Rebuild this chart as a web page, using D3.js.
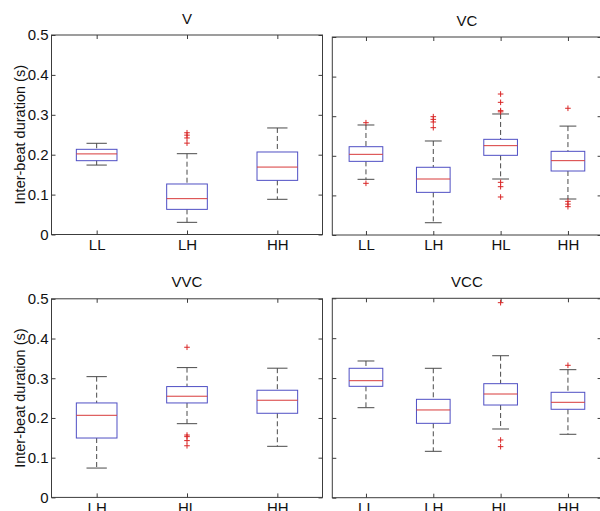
<!DOCTYPE html>
<html>
<head>
<meta charset="utf-8">
<script src="https://cdn.jsdelivr.net/npm/d3@7"></script>
<style>
  body { margin: 0; background: #fff; }
  svg { display: block; font-family: "Liberation Sans", Arial, Helvetica, sans-serif; }
</style>
</head>
<body>
<div id="chart"></div>
<script>
// Inter-beat duration boxplots, four conditions
// each stat row: [lower whisker, q1, median, q3, upper whisker]

var panelTitles = ["V", "VC", "VVC", "VCC"];

var vCats = ["LL", "LH", "HH"];
var vStats = [
  [0.174, 0.185, 0.202, 0.2135, 0.2286],
  [0.0305, 0.063, 0.0898, 0.1266, 0.2025],
  [0.0882, 0.1357, 0.169, 0.2068, 0.267]
];
var vOutliers = [[], [0.229, 0.242, 0.249, 0.255], []];

var vcCats = ["LL", "LH", "HL", "HH"];
var vcStats = [
  [0.1406, 0.186, 0.2037, 0.223, 0.2778],
  [0.031, 0.1077, 0.1414, 0.171, 0.2374],
  [0.1414, 0.2012, 0.2256, 0.2416, 0.3056],
  [0.0909, 0.1616, 0.1877, 0.2113, 0.275]
];
var vcOutliers = [
  [0.1305, 0.2836],
  [0.271, 0.2854, 0.292, 0.2988],
  [0.096, 0.122, 0.133, 0.311, 0.314, 0.335, 0.356],
  [0.0715, 0.078, 0.085, 0.32]
];

var vvcCats = ["LH", "HL", "HH"];
var vvcStats = [
  [0.0739, 0.1495, 0.2067, 0.2378, 0.304],
  [0.1856, 0.2378, 0.2547, 0.279, 0.3268],
  [0.1286, 0.2118, 0.2446, 0.2698, 0.3253]
];
var vvcOutliers = [[], [0.130, 0.143, 0.153, 0.157, 0.378], []];

var vccCats = ["LL", "LH", "HL", "HH"];
var vccStats = [
  [0.2257, 0.2793, 0.2934, 0.3245, 0.3428],
  [0.1163, 0.1865, 0.22, 0.2467, 0.3245],
  [0.1723, 0.2324, 0.26, 0.2859, 0.356],
  [0.159, 0.2217, 0.2392, 0.2643, 0.321]
];
var vccOutliers = [[], [], [0.128, 0.1447, 0.489], [0.332]];

var yTicks = [0, 0.1, 0.2, 0.3, 0.4, 0.5];
var yTickLabels = ["0", "0.1", "0.2", "0.3", "0.4", "0.5"];
var yLabel = "Inter-beat duration (s)";

var panels = [
  {title: panelTitles[0], cats: vCats, stats: vStats, outliers: vOutliers,
   left: 51.5, right: 322.5, top: 35, bottom: 234.5, yLabels: true},
  {title: panelTitles[1], cats: vcCats, stats: vcStats, outliers: vcOutliers,
   left: 332.3, right: 601.6, top: 37, bottom: 235, yLabels: false},
  {title: panelTitles[2], cats: vvcCats, stats: vvcStats, outliers: vvcOutliers,
   left: 51.5, right: 322.5, top: 298.8, bottom: 497.4, yLabels: true},
  {title: panelTitles[3], cats: vccCats, stats: vccStats, outliers: vccOutliers,
   left: 332.3, right: 601.6, top: 298.3, bottom: 497.7, yLabels: false}
];

var frameColor = "#3c3c3c",
  boxColor = "#4f4fc4",
  medianColor = "#d83a3a",
  whiskerColor = "#4a4a4a",
  outlierColor = "#d92626",
  textColor = "#111";

var fontSize = "15px";

var svg = d3.select("#chart").append("svg")
  .attr("width", 600)
  .attr("height", 511);

panels.forEach(function(p) {
  var n = p.cats.length;
  var x = d3.scaleLinear()
    .domain([0.5, n + 0.5])
    .range([p.left, p.right]);
  var y = d3.scaleLinear()
    .domain([0, 0.5])
    .range([p.bottom, p.top]);

  var unit = x(2) - x(1);
  var boxW = (n == 3 ? 0.45 : 0.5) * unit;
  var capW = boxW / 2;

  var g = svg.append("g");

  // frame
  g.append("rect")
    .attr("x", p.left)
    .attr("y", p.top)
    .attr("width", p.right - p.left)
    .attr("height", p.bottom - p.top)
    .attr("fill", "none")
    .attr("stroke", frameColor)
    .attr("stroke-width", 1);

  var idx = d3.range(1, n + 1);

  // axes, ticks pointing inward like matlab
  var ax = g.append("g")
    .attr("transform", "translate(0," + p.bottom + ")")
    .call(d3.axisBottom(x).tickValues(idx)
      .tickFormat(i => p.cats[i - 1])
      .tickSize(-4).tickSizeOuter(0).tickPadding(4.5));
  ax.selectAll("text").style("font-size", fontSize).attr("fill", textColor);

  g.append("g")
    .attr("transform", "translate(0," + p.top + ")")
    .call(d3.axisTop(x).tickValues(idx).tickFormat("")
      .tickSize(-4).tickSizeOuter(0));

  var ay = g.append("g")
    .attr("transform", "translate(" + p.left + ",0)")
    .call(d3.axisLeft(y).tickValues(yTicks)
      .tickFormat((d, i) => p.yLabels ? yTickLabels[i] : "")
      .tickSize(-4).tickSizeOuter(0).tickPadding(3));
  ay.selectAll("text").style("font-size", fontSize).attr("fill", textColor);

  g.append("g")
    .attr("transform", "translate(" + p.right + ",0)")
    .call(d3.axisRight(y).tickValues(yTicks).tickFormat("")
      .tickSize(-4).tickSizeOuter(0));

  g.selectAll(".domain").remove();
  g.selectAll(".tick line").attr("stroke", frameColor);
  g.selectAll(".tick text").style("font-family", "'Liberation Sans', Arial, sans-serif");

  // title
  g.append("text")
    .attr("x", (p.left + p.right) / 2)
    .attr("y", p.top - 11.5)
    .attr("text-anchor", "middle")
    .style("font-size", fontSize)
    .attr("fill", textColor)
    .text(p.title);

  if (p.yLabels) {
    g.append("text")
      .attr("transform", "translate(25," + ((p.top + p.bottom) / 2) + ") rotate(-90)")
      .attr("text-anchor", "middle")
      .style("font-size", "14.5px")
      .attr("fill", textColor)
      .text(yLabel);
  }

  var boxes = g.selectAll(".bx")
    .data(p.stats)
    .enter().append("g")
      .attr("class", "bx");

  // whiskers
  boxes.append("line")
    .attr("x1", (d, i) => x(i + 1)).attr("x2", (d, i) => x(i + 1))
    .attr("y1", d => y(d[4])).attr("y2", d => y(d[3]))
    .attr("stroke", whiskerColor).attr("stroke-dasharray", "5,3");
  boxes.append("line")
    .attr("x1", (d, i) => x(i + 1)).attr("x2", (d, i) => x(i + 1))
    .attr("y1", d => y(d[1])).attr("y2", d => y(d[0]))
    .attr("stroke", whiskerColor).attr("stroke-dasharray", "5,3");

  // caps
  [0, 4].forEach(function(k) {
    boxes.append("line")
      .attr("x1", (d, i) => x(i + 1) - capW / 2)
      .attr("x2", (d, i) => x(i + 1) + capW / 2)
      .attr("y1", d => y(d[k])).attr("y2", d => y(d[k]))
      .attr("stroke", whiskerColor);
  });

  boxes.append("rect")
    .attr("x", (d, i) => x(i + 1) - boxW / 2)
    .attr("width", boxW)
    .attr("y", d => y(d[3]))
    .attr("height", d => y(d[1]) - y(d[3]))
    .attr("fill", "none")
    .attr("stroke", boxColor);

  boxes.append("line")
    .attr("x1", (d, i) => x(i + 1) - boxW / 2)
    .attr("x2", (d, i) => x(i + 1) + boxW / 2)
    .attr("y1", d => y(d[2])).attr("y2", d => y(d[2]))
    .attr("stroke", medianColor);

  // outliers as '+'
  var pts = [];
  p.outliers.forEach(function(list, i) {
    list.forEach(function(v) { pts.push({i: i + 1, v: v}); });
  });
  g.selectAll(".out")
    .data(pts)
    .enter().append("path")
      .attr("class", "out")
      .attr("d", d => {
        var cx = x(d.i), cy = y(d.v), r = 2.8;
        return "M" + (cx - r) + "," + cy + "H" + (cx + r) +
          "M" + cx + "," + (cy - r) + "V" + (cy + r);
      })
      .attr("stroke", outlierColor)
      .attr("fill", "none");
});
</script>
</body>
</html>
